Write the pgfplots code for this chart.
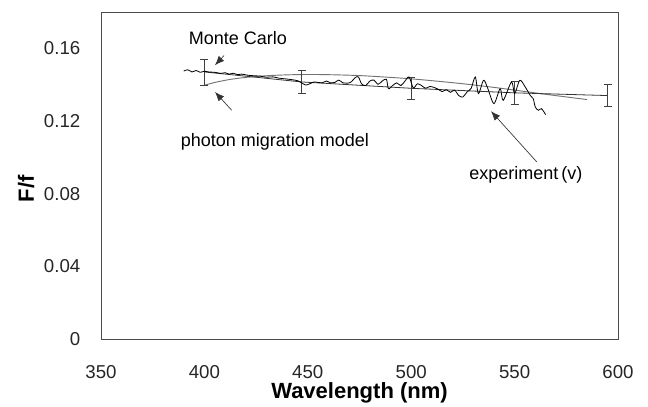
\documentclass[border=0pt]{standalone}
\usepackage{fontspec}
\setmainfont{Liberation Sans}
\usepackage{pgfplots}
\pgfplotsset{compat=1.18}
\usetikzlibrary{arrows.meta}

\begin{document}
\begin{tikzpicture}
\begin{axis}[
    scale only axis,
    width=387.75pt, height=245.25pt,
    xmin=350, xmax=600, ymin=0, ymax=0.18,
    xtick={350,400,...,600},
    ytick={0,0.04,0.08,0.12,0.16},
    yticklabels={0,0.04,0.08,0.12,0.16},
    major tick length=0pt,
    axis line style={draw=black!70, line width=0.6pt},
    /pgf/number format/assume math mode=true,
    tick label style={font=\fontsize{14}{16}\selectfont, text=black!85},
    xticklabel style={anchor=center, yshift=-24.5pt},
    yticklabel style={anchor=east, xshift=-12pt},
    xlabel={Wavelength (nm)},
    ylabel={F/f},
    xlabel style={font=\fontsize{16.5}{19}\bfseries, at={(axis description cs:0.5,-0.165)}, anchor=center},
    ylabel style={font=\fontsize{16.5}{19}\bfseries, at={(axis description cs:-0.145,0.46)}, anchor=center},
    clip=false,
]
% photon migration model
\addplot[black!55, line width=0.7pt, smooth] coordinates {
    (400,0.1397) (405,0.1412) (412,0.1428) (420,0.1440) (430,0.1449)
    (440,0.1454) (450,0.1456) (460,0.1455) (475,0.1450) (490,0.1440)
    (500,0.1432) (510,0.1422) (525,0.1405) (540,0.1385) (550,0.1370)
    (565,0.1347) (585,0.1318)
};
% Monte Carlo with error bars
\addplot[black!80, line width=0.6pt, mark=none,
    error bars/.cd, y dir=both, y explicit,
    error bar style={black!75, line width=0.6pt},
    error mark options={rotate=90, mark size=3pt, black!75}]
    coordinates {
    (400,0.1470) +- (0,0.0072)
    (447,0.1415) +- (0,0.0064)
    (500,0.1380) +- (0,0.0062)
    (550,0.1355) +- (0,0.0065)
    (595,0.1340) +- (0,0.0060)
};
% experiment (v)
\addplot[black, line width=0.6pt, smooth] coordinates {
    (390,0.1475) (392,0.1482) (394,0.1470) (396,0.1478) (398,0.1468)
    (400,0.1474) (402,0.1470) (405,0.1468) (408,0.1462) (410,0.1466)
    (412,0.1458) (414,0.1463) (416,0.1455) (418,0.1458) (421,0.1452)
    (424,0.1449) (427,0.1447) (430,0.1441) (433,0.1443) (436,0.1436)
    (439,0.1432) (442,0.1428) (445,0.1422) (447,0.1410) (449,0.1398)
    (451,0.1405) (453,0.1415) (455,0.1412) (457,0.1410) (459,0.1420)
    (461,0.1410) (463,0.1412) (465,0.1425) (467,0.1410) (469,0.1408)
    (471,0.1415) (473,0.1440) (474.5,0.1442) (476,0.1405) (478,0.1395)
    (480,0.1420) (482,0.1425) (484,0.1402) (486,0.1420) (488,0.1430)
    (489,0.1378) (491,0.1395) (493,0.1410) (495,0.1395) (497,0.1420)
    (499,0.1442) (501,0.1382) (503,0.1405) (505,0.1395) (507,0.1380)
    (509,0.1390) (511,0.1385) (513,0.1375) (515,0.1362) (517,0.1372)
    (519,0.1358) (521,0.1370) (523,0.1340) (525,0.1332) (527,0.1360)
    (529,0.1380) (531,0.1442) (532.5,0.1351) (535,0.1424) (537,0.1380)
    (540,0.1296) (543,0.1378) (544.5,0.1314) (548.5,0.1415) (550,0.1351)
    (552.5,0.1424) (555,0.1390) (557.5,0.1342) (559,0.1323) (560,0.1277)
    (561.5,0.1259) (563,0.1268) (565,0.1235)
};
% annotations
\node[font=\fontsize{13.5}{16}\selectfont] at (axis cs:416.2,0.1655) {Monte Carlo};
\node[font=\fontsize{13.5}{16}\selectfont] at (axis cs:434.1,0.1083) {photon migration model};
\node[font=\fontsize{13.5}{16}\selectfont] at (axis cs:555.5,0.0902) {experiment\,(v)};
\draw[black!80, line width=0.5pt, -{Latex[length=7pt,width=5.5pt]}] (axis cs:409.5,0.1560) -- (axis cs:405.1,0.1507);
\draw[black!80, line width=0.5pt, -{Latex[length=7pt,width=5.5pt]}] (axis cs:413.2,0.1259) -- (axis cs:405.1,0.1360);
\draw[black!80, line width=0.5pt, -{Latex[length=7pt,width=5.5pt]}] (axis cs:560.7,0.0975) -- (axis cs:538.6,0.1254);
\end{axis}
\pgfresetboundingbox
\path[use as bounding box] ([xshift=-75.75pt,yshift=-50.25pt]current axis.south west) rectangle ([xshift=22.5pt,yshift=9pt]current axis.north east);
\end{tikzpicture}
\end{document}
